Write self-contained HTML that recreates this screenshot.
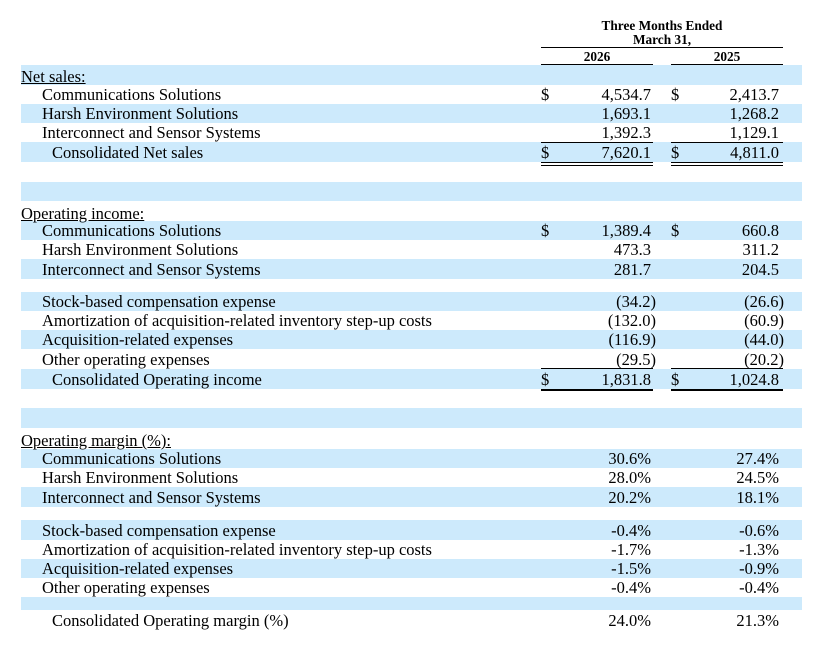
<!DOCTYPE html>
<html><head><meta charset="utf-8"><style>
body{margin:0;width:814px;height:651px;background:#fff;position:relative;overflow:hidden;font-family:"Liberation Serif",serif;font-size:16.5px;color:#000}
.b{position:absolute;left:21px;width:781px;background:#cdeafc}
.t{position:absolute;white-space:nowrap;line-height:19px}
.r{position:absolute;white-space:nowrap;line-height:19px;text-align:right}
.l{position:absolute;height:1px;background:#000}
.h{font-weight:bold;font-size:13.3px;text-align:center;position:absolute;line-height:14px}
u{text-decoration:underline}
</style></head><body>
<div class="h" style="left:541px;width:242px;top:19px">Three Months Ended</div>
<div class="h" style="left:541px;width:242px;top:33px">March 31,</div>
<div class="l" style="left:541px;width:242px;top:47px"></div>
<div class="h" style="left:541px;width:112px;top:50px">2026</div>
<div class="h" style="left:671px;width:112px;top:50px">2025</div>
<div class="l" style="left:541px;width:112px;top:64px"></div>
<div class="l" style="left:671px;width:112px;top:64px"></div>

<div class="b" style="top:65px;height:20px"></div>
<div class="b" style="top:104px;height:19px"></div>
<div class="b" style="top:142px;height:20px"></div>
<div class="b" style="top:182px;height:19px"></div>
<div class="b" style="top:221px;height:19px"></div>
<div class="b" style="top:259px;height:20px"></div>
<div class="b" style="top:292px;height:19px"></div>
<div class="b" style="top:330px;height:19px"></div>
<div class="b" style="top:369px;height:20px"></div>
<div class="b" style="top:408px;height:20px"></div>
<div class="b" style="top:449px;height:19px"></div>
<div class="b" style="top:487px;height:20px"></div>
<div class="b" style="top:520px;height:20px"></div>
<div class="b" style="top:559px;height:19px"></div>
<div class="b" style="top:597px;height:13px"></div>

<div class="t" style="left:21px;top:67px"><u>Net sales:</u></div>
<div class="t" style="left:42px;top:85px">Communications Solutions</div>
<div class="t" style="left:42px;top:104px">Harsh Environment Solutions</div>
<div class="t" style="left:42px;top:123px">Interconnect and Sensor Systems</div>
<div class="t" style="left:52px;top:143px">Consolidated Net sales</div>
<div class="t" style="left:541px;top:85px">$</div><div class="t" style="left:671px;top:85px">$</div>
<div class="r" style="right:163px;top:85px">4,534.7</div><div class="r" style="right:35px;top:85px">2,413.7</div>
<div class="r" style="right:163px;top:104px">1,693.1</div><div class="r" style="right:35px;top:104px">1,268.2</div>
<div class="r" style="right:163px;top:123px">1,392.3</div><div class="r" style="right:35px;top:123px">1,129.1</div>
<div class="l" style="left:541px;width:112px;top:142px"></div><div class="l" style="left:671px;width:112px;top:142px"></div>
<div class="t" style="left:541px;top:143px">$</div><div class="t" style="left:671px;top:143px">$</div>
<div class="r" style="right:163px;top:143px">7,620.1</div><div class="r" style="right:35px;top:143px">4,811.0</div>
<div class="l" style="left:541px;width:112px;top:162px"></div><div class="l" style="left:671px;width:112px;top:162px"></div>
<div class="l" style="left:541px;width:112px;top:165px"></div><div class="l" style="left:671px;width:112px;top:165px"></div>

<div class="t" style="left:21px;top:204px"><u>Operating income:</u></div>
<div class="t" style="left:42px;top:221px">Communications Solutions</div>
<div class="t" style="left:42px;top:240px">Harsh Environment Solutions</div>
<div class="t" style="left:42px;top:260px">Interconnect and Sensor Systems</div>
<div class="t" style="left:541px;top:221px">$</div><div class="t" style="left:671px;top:221px">$</div>
<div class="r" style="right:163px;top:221px">1,389.4</div><div class="r" style="right:35px;top:221px">660.8</div>
<div class="r" style="right:163px;top:240px">473.3</div><div class="r" style="right:35px;top:240px">311.2</div>
<div class="r" style="right:163px;top:260px">281.7</div><div class="r" style="right:35px;top:260px">204.5</div>
<div class="t" style="left:42px;top:292px">Stock-based compensation expense</div>
<div class="t" style="left:42px;top:311px">Amortization of acquisition-related inventory step-up costs</div>
<div class="t" style="left:42px;top:330px">Acquisition-related expenses</div>
<div class="t" style="left:42px;top:350px">Other operating expenses</div>
<div class="r" style="right:158px;top:292px">(34.2)</div><div class="r" style="right:30px;top:292px">(26.6)</div>
<div class="r" style="right:158px;top:311px">(132.0)</div><div class="r" style="right:30px;top:311px">(60.9)</div>
<div class="r" style="right:158px;top:330px">(116.9)</div><div class="r" style="right:30px;top:330px">(44.0)</div>
<div class="r" style="right:158px;top:350px">(29.5)</div><div class="r" style="right:30px;top:350px">(20.2)</div>
<div class="l" style="left:541px;width:112px;top:368px"></div><div class="l" style="left:671px;width:112px;top:368px"></div>
<div class="t" style="left:52px;top:370px">Consolidated Operating income</div>
<div class="t" style="left:541px;top:370px">$</div><div class="t" style="left:671px;top:370px">$</div>
<div class="r" style="right:163px;top:370px">1,831.8</div><div class="r" style="right:35px;top:370px">1,024.8</div>
<div class="l" style="left:541px;width:112px;top:389px;height:2px"></div><div class="l" style="left:671px;width:112px;top:389px;height:2px"></div>

<div class="t" style="left:21px;top:431px"><u>Operating margin (%):</u></div>
<div class="t" style="left:42px;top:449px">Communications Solutions</div>
<div class="t" style="left:42px;top:468px">Harsh Environment Solutions</div>
<div class="t" style="left:42px;top:488px">Interconnect and Sensor Systems</div>
<div class="r" style="right:163px;top:449px">30.6%</div><div class="r" style="right:35px;top:449px">27.4%</div>
<div class="r" style="right:163px;top:468px">28.0%</div><div class="r" style="right:35px;top:468px">24.5%</div>
<div class="r" style="right:163px;top:488px">20.2%</div><div class="r" style="right:35px;top:488px">18.1%</div>
<div class="t" style="left:42px;top:521px">Stock-based compensation expense</div>
<div class="t" style="left:42px;top:540px">Amortization of acquisition-related inventory step-up costs</div>
<div class="t" style="left:42px;top:559px">Acquisition-related expenses</div>
<div class="t" style="left:42px;top:578px">Other operating expenses</div>
<div class="r" style="right:163px;top:521px">-0.4%</div><div class="r" style="right:35px;top:521px">-0.6%</div>
<div class="r" style="right:163px;top:540px">-1.7%</div><div class="r" style="right:35px;top:540px">-1.3%</div>
<div class="r" style="right:163px;top:559px">-1.5%</div><div class="r" style="right:35px;top:559px">-0.9%</div>
<div class="r" style="right:163px;top:578px">-0.4%</div><div class="r" style="right:35px;top:578px">-0.4%</div>
<div class="t" style="left:52px;top:611px">Consolidated Operating margin (%)</div>
<div class="r" style="right:163px;top:611px">24.0%</div><div class="r" style="right:35px;top:611px">21.3%</div>
</body></html>
